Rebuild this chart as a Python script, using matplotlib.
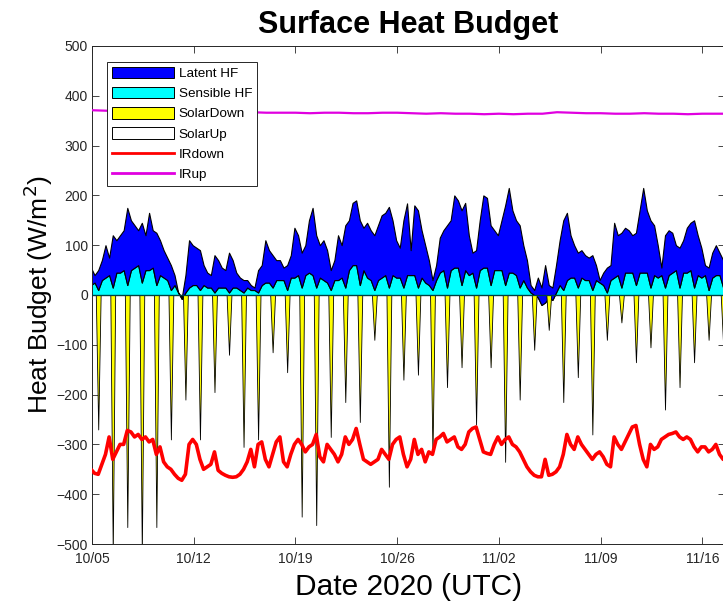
import numpy as np
import matplotlib
matplotlib.use("Agg")
import matplotlib.pyplot as plt
from matplotlib.patches import Patch
from matplotlib.lines import Line2D

plt.rcParams['font.family'] = ['Liberation Sans', 'DejaVu Sans']

# ---- time base: days since 2020-10-05 00:00 UTC ----
start_day = -0.07
flux_step = 0.25          # turbulent fluxes and IRdown: 6-hourly
solar_step = 1.0 / 6.0    # shortwave: 4-hourly
tick_days = [0, 7, 14, 21, 28, 35, 42]
tick_labels = ['10/05', '10/12', '10/19', '10/26', '11/02', '11/09', '11/16']

# Sensible heat flux (W/m^2), four 6-hourly samples per day
sensible = [
    20, 25, 10, 30,   35, 40, 15, 45,   45, 50, 20, 50,   55, 60, 25, 50,
    50, 55, 20, 40,   35, 30, 10, 20,    5, -8,  5, 15,   20, 20, 10, 20,
    15, 15,  5, 15,   15, 15,  5, 15,   15, 10,  5, 15,   10, 10,  5, 20,
    25, 25, 15, 30,   30, 30, 10, 35,   35, 40, 15, 40,   45, 40, 15, 35,
    30, 25, 10, 30,   30, 35, 15, 50,   60, 60, 20, 50,   35, 30, 10, 30,
    35, 40, 15, 40,   35, 35, 15, 40,   40, 40, 15, 35,   25, 20, 10, 30,
    45, 50, 15, 50,   55, 55, 20, 50,   40, 45, 15, 50,   55, 55, 20, 50,
    50, 50, 20, 45,   45, 40, 15, 30,   15,  5,  0, -5,  -20, -15, -5, -10,
     5, 20, 10, 30,   35, 35, 15, 35,   30, 30, 10, 30,   25, 20,  5, 30,
    35, 40, 15, 45,   45, 45, 20, 45,   45, 45, 15, 40,   35, 40, 15, 40,
    45, 50, 15, 45,   45, 50, 15, 40,   35, 40, 10, 35,   40, 40, 15, 40,
]

# Latent heat flux (W/m^2), same sampling
latent = [
     35,  15,  40,  40,    65,  35, 105,  65,    75,  80, 155, 100,    85,  70, 120,  70,
    115,  75, 105,  70,    55,  45,  50,  20,     0,   3,  35,  95,    80,  75,  80,  40,
     30,  25,  75,  55,    40,  35,  80,  55,    30,  25,  25,  15,    10,   5,  45,  40,
     85,  65,  65,  40,    40,  25,  50,  45,   100,  80,  70,  60,   105, 135, 105,  65,
     80,  65,  40,  40,    90,  65, 125, 100,   125, 130, 130,  85,   110, 100, 110, 110,
    125, 125, 162, 110,    75,  60, 135, 144,    50, 140, 155,  95,    75,  50,  20,  30,
     70,  80, 125, 100,   145, 135, 150, 135,    80,  40,  75, 100,   145, 140, 120,  80,
     70, 100, 160, 170,   125, 110, 125,  70,    55,  15,  10,  40,    35,  75,  25,  25,
     55,  90, 140, 135,    85,  65,  70,  55,    50,  45,  70,  30,     5,  25,  50,  30,
    110,  80, 110,  90,    85,  75, 105, 125,   170, 125, 135, 100,    65,  15, 105,  90,
     80,  50,  80,  65,    90,  95, 135,  80,    60,  20,  45,  50,    60,  45,  55,  40,
]

# Midday downwelling shortwave (W/m^2), plotted as a loss from the surface
solar_down_noon = [
    -270, -520, -466, -520, -466, -290, -210, -290, -195, -120, -305, -290,
    -115, -155, -445, -462, -285, -215, -255,  -90, -385, -170, -160, -320,
    -185, -145, -260, -145, -335, -210, -110,  -70, -215, -165, -280,  -90,
     -55, -135, -105, -230, -185, -135,  -90, -100,
]

# Longwave (W/m^2): downwelling (negative, 6-hourly) and upwelling (daily)
ir_down = [
    -350, -358, -360, -340, -320, -285, -330, -315, -300, -300, -272, -275,
    -285, -280, -290, -285, -295, -290, -320, -305, -335, -345, -350, -360,
    -368, -372, -360, -300, -290, -300, -330, -350, -345, -340, -315, -352,
    -358, -362, -365, -366, -365, -360, -350, -335, -310, -345, -300, -295,
    -330, -345, -320, -295, -285, -335, -345, -320, -300, -290, -300, -315,
    -305, -300, -280, -325, -335, -300, -310, -320, -335, -320, -285, -300,
    -290, -268, -300, -330, -335, -340, -335, -330, -310, -320, -330, -300,
    -290, -285, -320, -345, -330, -290, -320, -310, -335, -315, -320, -290,
    -285, -278, -295, -290, -285, -305, -310, -300, -275, -268, -265, -290,
    -315, -318, -320, -300, -285, -300, -290, -285, -300, -305, -315, -330,
    -345, -355, -362, -365, -365, -330, -362, -360, -355, -345, -320, -280,
    -300, -310, -285, -300, -310, -320, -330, -320, -315, -325, -340, -345,
    -285, -300, -310, -295, -280, -265, -262, -300, -330, -345, -300, -310,
    -305, -290, -285, -280, -278, -275, -285, -290, -285, -290, -305, -315,
    -305, -305, -315, -310, -300, -320, -330, -325,
]
ir_up = [
    371, 370, 370, 369, 368, 368, 367, 367, 367, 366, 366, 367, 366, 366, 366,
    365, 366, 366, 365, 365, 366, 366, 365, 364, 365, 364, 364, 363, 364, 363,
    364, 364, 367, 366, 365, 365, 364, 364, 365, 364, 364, 363, 364, 364, 364,
]

# ---- assemble arrays ----
sens = np.array(sensible, dtype=float)
lat = np.array(latent, dtype=float)
t = start_day + flux_step * np.arange(len(sens))

n_days = len(solar_down_noon)
t_sw = start_day + solar_step * np.arange(6 * n_days)
sd = np.zeros(6 * n_days)             # night-time shortwave is zero
sd[3::6] = solar_down_noon            # sample 3 of each day is local midday
t_ir_up = np.arange(len(ir_up), dtype=float)

fig = plt.figure(figsize=(7.23, 6.05), dpi=100)
ax = fig.add_axes([0.1272, 0.1008, 0.8758, 0.8232])

ax.fill_between(t, 0, sens, facecolor='#00ffff', edgecolor='black',
                linewidth=0.8, zorder=2)
ax.fill_between(t, sens, sens + lat, facecolor='#0000ff', edgecolor='black',
                linewidth=0.8, zorder=2)
ax.fill_between(t_sw, 0, sd, facecolor='#ffff00', edgecolor='black',
                linewidth=0.6, zorder=2)
ax.axhline(0, color='#004040', linewidth=0.9, zorder=3)
ax.plot(t, ir_down, color='#ff0000', linewidth=2.6, zorder=4)
ax.plot(t_ir_up, ir_up, color='#e000e0', linewidth=1.6, zorder=4)

ax.set_xlim(0, 43.57)
ax.set_ylim(-500, 500)
ax.set_xticks(tick_days)
ax.set_xticklabels(tick_labels)
ax.set_yticks(np.arange(-500, 501, 100))
ax.tick_params(direction='in', length=5, width=0.6, top=True, right=True,
               labelsize=10, colors='#262626')
ax.tick_params(axis='x', pad=6)
ax.tick_params(axis='y', pad=3)
for s in ax.spines.values():
    s.set_linewidth(0.7)
    s.set_color('#262626')

ax.set_title('Surface Heat Budget', fontsize=22, fontweight='bold', pad=9)
ax.set_xlabel('Date 2020 (UTC)', fontsize=21.5, labelpad=5)
ax.set_ylabel('Heat Budget (W/m$^2$)', fontsize=19, labelpad=1)

handles = [
    Patch(facecolor='#0000ff', edgecolor='black', linewidth=0.7),
    Patch(facecolor='#00ffff', edgecolor='black', linewidth=0.7),
    Patch(facecolor='#ffff00', edgecolor='black', linewidth=0.7),
    Patch(facecolor='white', edgecolor='black', linewidth=0.7),
    Line2D([], [], color='#ff0000', linewidth=2),
    Line2D([], [], color='#e000e0', linewidth=2),
]
labels = ['Latent HF', 'Sensible HF', 'SolarDown', 'SolarUp', 'IRdown', 'IRup']
leg = ax.legend(handles, labels, loc='upper left', bbox_to_anchor=(0.024, 0.968),
                fontsize=9.7, frameon=True, fancybox=False, framealpha=1,
                edgecolor='#262626', handlelength=4.6, handleheight=0.95,
                handletextpad=0.35, labelspacing=0.5, borderpad=0.35,
                borderaxespad=0)
leg.get_frame().set_linewidth(0.7)
leg.set_zorder(10)

fig.savefig('out.png', dpi=100)
